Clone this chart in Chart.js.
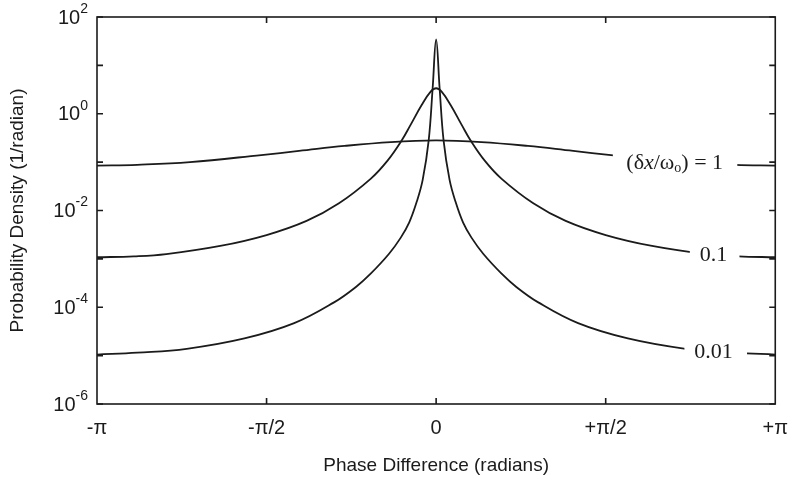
<!DOCTYPE html>
<html lang="en">
<head>
<meta charset="UTF-8">
<title>Phase difference probability density</title>
<script src="https://cdn.jsdelivr.net/npm/chart.js"></script>
<style>
  html, body { margin: 0; padding: 0; background: #fff; }
  #wrap { width: 800px; height: 482px; }
</style>
</head>
<body>
<div id="wrap"><canvas id="chart"></canvas></div>
<script>
const PI = Math.PI;

// axis ticks
const xTickValues = [-PI, -PI / 2, 0, PI / 2, PI];
const xTickLabels = ['-π', '-π/2', '0', '+π/2', '+π'];
const yDecades = [-6, -5, -4, -3, -2, -1, 0, 1, 2];
const yLabelExps = [-6, -4, -2, 0, 2];

// (dx/wo) = 1
const phaseA = [-PI, -2.77, -2.28, -1.62, -1.27, -0.85, -0.42, 0, 0.42, 0.85, 1.27, 1.62, 2.28, 2.77, PI];
const densA  = [0.0847, 0.0881, 0.100, 0.140, 0.170, 0.216, 0.260, 0.281, 0.260, 0.216, 0.170, 0.140, 0.100, 0.0881, 0.0847];

// (dx/wo) = 0.1
const phaseB = [-PI, -2.8, -2.5, -2.0, -1.571, -1.2, -0.9, -0.607, -0.45, -0.318, -0.238, -0.134, -0.0507, 0,
                0.0507, 0.134, 0.238, 0.318, 0.45, 0.607, 0.9, 1.2, 1.571, 2.0, 2.5, 2.8, PI];
const densB  = [0.00108, 0.00113, 0.00126, 0.00185, 0.00311, 0.0061, 0.01413, 0.0452, 0.1076, 0.284, 0.583, 1.52, 2.86, 3.37,
                2.86, 1.52, 0.583, 0.284, 0.1076, 0.0452, 0.01413, 0.0061, 0.00311, 0.00185, 0.00126, 0.00113, 0.00108];

// (dx/wo) = 0.01
const phaseC = [-PI, -2.768, -2.311, -1.776, -1.315, -0.946, -0.743, -0.604, -0.438, -0.3275, -0.25, -0.18, -0.1246, -0.0692, -0.0323, 0,
                0.0323, 0.0692, 0.1246, 0.18, 0.25, 0.3275, 0.438, 0.604, 0.743, 0.946, 1.315, 1.776, 2.311, 2.768, PI];
const densC  = [1.05e-5, 1.15e-5, 1.38e-5, 2.26e-5, 4.68e-5, 1.26e-4, 2.63e-4, 5.01e-4, 1.26e-3, 2.75e-3, 5.62e-3, 0.0151, 0.0429, 0.278, 3.37, 34.6,
                3.37, 0.278, 0.0429, 0.0151, 5.62e-3, 2.75e-3, 1.26e-3, 5.01e-4, 2.63e-4, 1.26e-4, 4.68e-5, 2.26e-5, 1.38e-5, 1.15e-5, 1.05e-5];

// in-plot labels: where they sit (phase, density) and the gap they cut in the curve
const curveLabels = [
  { parts: [['(δ', 'n'], ['x', 'i'], ['/ω', 'n'], ['o', 'sub'], [') = 1', 'n']], at: [2.21, 0.096], gap: [1.637, 2.79] },
  { parts: [['0.1', 'n']], at: [2.57, 1.21e-3], gap: [2.35, 2.81] },
  { parts: [['0.01', 'n']], at: [2.57, 1.2e-5], gap: [2.30, 2.88] }
];

const SERIF = '"Liberation Serif", "Times New Roman", serif';
const SANS = '"Liberation Sans", Arial, sans-serif';
const INK = '#1b1b1b';

const toPoints = (xs, ys) => xs.map((v, i) => ({ x: v, y: ys[i] }));
const lineStyle = { borderColor: INK, borderWidth: 1.8, pointRadius: 0, tension: 0.4, fill: false };

function drawRich(ctx, parts, cx, cy) {
  const fontFor = s => s === 'i' ? 'italic 22px ' + SERIF : s === 'sub' ? '14px ' + SERIF : '22px ' + SERIF;
  let total = 0;
  parts.forEach(([t, s]) => { ctx.font = fontFor(s); total += ctx.measureText(t).width; });
  let px = cx - total / 2;
  ctx.fillStyle = INK;
  ctx.textBaseline = 'middle';
  ctx.textAlign = 'left';
  parts.forEach(([t, s]) => {
    ctx.font = fontFor(s);
    ctx.fillText(t, px, s === 'sub' ? cy + 5 : cy);
    px += ctx.measureText(t).width;
  });
}

const frame = {
  id: 'frame',
  afterDatasetsDraw(chart) {
    const { ctx, scales: { x, y } } = chart;
    ctx.save();
    curveLabels.forEach(l => {
      const x0 = x.getPixelForValue(l.gap[0]);
      const x1 = x.getPixelForValue(l.gap[1]);
      const cy = y.getPixelForValue(l.at[1]);
      ctx.fillStyle = '#fff';
      ctx.fillRect(x0, cy - 12, x1 - x0, 24);
      drawRich(ctx, l.parts, x.getPixelForValue(l.at[0]), cy);
    });
    ctx.restore();
  },
  afterDraw(chart) {
    const { ctx, chartArea: a, scales: { x, y } } = chart;
    ctx.save();
    ctx.strokeStyle = INK;
    ctx.lineWidth = 1.6;
    ctx.strokeRect(a.left, a.top, a.right - a.left, a.bottom - a.top);
    ctx.beginPath();
    yDecades.forEach(e => {
      const py = y.getPixelForValue(Math.pow(10, e));
      ctx.moveTo(a.left, py); ctx.lineTo(a.left + 6, py);
      ctx.moveTo(a.right, py); ctx.lineTo(a.right - 6, py);
    });
    xTickValues.slice(1, -1).forEach(v => {
      const px = x.getPixelForValue(v);
      ctx.moveTo(px, a.bottom); ctx.lineTo(px, a.bottom - 6);
      ctx.moveTo(px, a.top); ctx.lineTo(px, a.top + 6);
    });
    ctx.stroke();

    // y labels as 10 with a raised exponent
    ctx.fillStyle = INK;
    ctx.textBaseline = 'middle';
    yLabelExps.forEach(e => {
      const py = y.getPixelForValue(Math.pow(10, e));
      const right = a.left - 9;
      ctx.font = '14px ' + SANS;
      ctx.textAlign = 'right';
      const expText = String(e);
      const ew = ctx.measureText(expText).width;
      ctx.fillText(expText, right, py - 8);
      ctx.font = '20px ' + SANS;
      ctx.fillText('10', right - ew, py + 1);
    });
    ctx.restore();
  }
};

new Chart(document.getElementById('chart'), {
  type: 'line',
  data: {
    datasets: [
      { label: '(δx/ωo) = 1', data: toPoints(phaseA, densA), ...lineStyle },
      { label: '0.1', data: toPoints(phaseB, densB), ...lineStyle },
      { label: '0.01', data: toPoints(phaseC, densC), ...lineStyle }
    ]
  },
  options: {
    responsive: true,
    maintainAspectRatio: false,
    animation: false,
    layout: { padding: { top: 17, right: 22, bottom: 0, left: 0 } },
    plugins: { legend: { display: false }, tooltip: { enabled: false } },
    scales: {
      x: {
        type: 'linear',
        min: -PI,
        max: PI,
        afterBuildTicks: s => { s.ticks = xTickValues.map(v => ({ value: v })); },
        afterFit: s => { s.height = 78; },
        grid: { display: false, drawTicks: false },
        border: { display: false },
        ticks: {
          autoSkip: false,
          maxRotation: 0,
          padding: 12,
          color: INK,
          font: { family: SANS, size: 20 },
          callback: v => xTickLabels[xTickValues.findIndex(t => Math.abs(t - v) < 1e-6)] ?? ''
        },
        title: {
          display: true,
          text: 'Phase Difference (radians)',
          color: INK,
          font: { family: SANS, size: 19 },
          padding: { top: 0, bottom: 5 }
        }
      },
      y: {
        type: 'logarithmic',
        min: 1e-6,
        max: 1e2,
        afterBuildTicks: s => { s.ticks = yDecades.map(e => ({ value: Math.pow(10, e) })); },
        afterFit: s => { s.width = 97; },
        grid: { display: false, drawTicks: false },
        border: { display: false },
        ticks: { display: false },
        title: {
          display: true,
          text: 'Probability Density (1/radian)',
          color: INK,
          font: { family: SANS, size: 19 },
          padding: { top: 6, bottom: 0 }
        }
      }
    }
  },
  plugins: [frame]
});
</script>
</body>
</html>
